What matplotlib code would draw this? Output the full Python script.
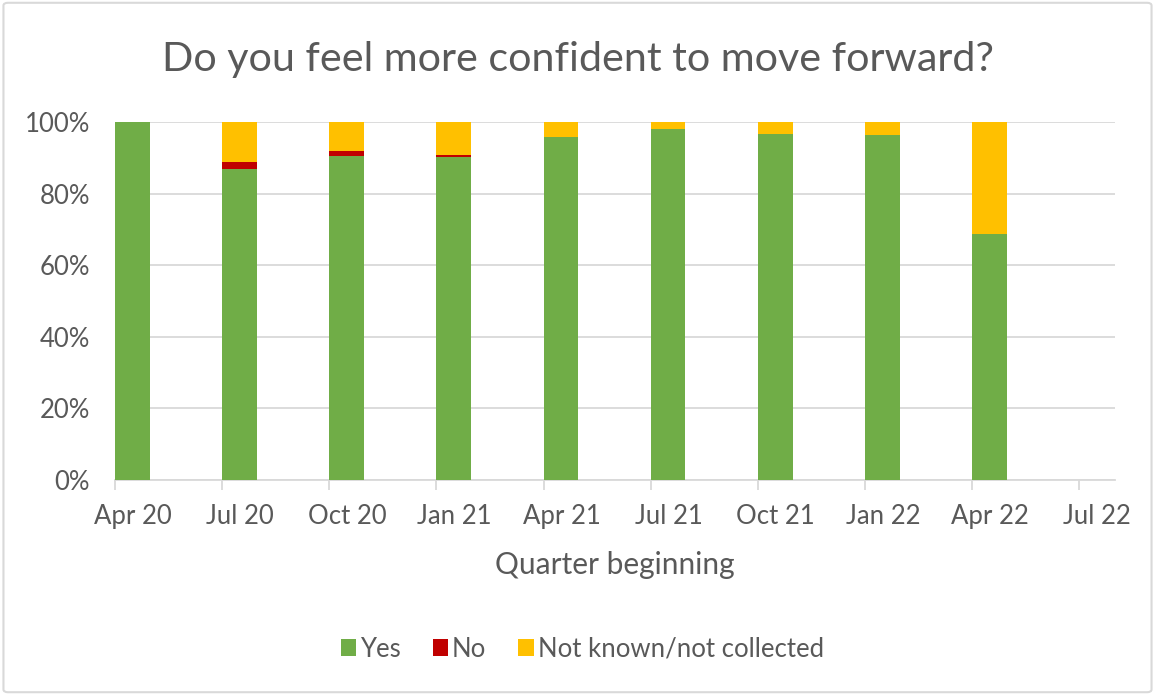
import numpy as np
import matplotlib.pyplot as plt
from matplotlib.patches import FancyBboxPatch

plt.rcParams['font.family'] = ['Lato', 'DejaVu Sans']

# quarters, month offsets from Apr 20
quarters = ["Apr 20", "Jul 20", "Oct 20", "Jan 21", "Apr 21",
            "Jul 21", "Oct 21", "Jan 22", "Apr 22", "Jul 22"]
bar_months = [0, 3, 6, 9, 12, 15, 18, 21, 24]

yes = [100.0, 86.8, 90.6, 90.1, 95.9, 98.0, 96.7, 96.3, 68.7]
no = [0.0, 2.1, 1.4, 0.7, 0.0, 0.0, 0.0, 0.0, 0.0]
not_known = [0.0, 11.1, 8.0, 9.2, 4.1, 2.0, 3.3, 3.7, 31.3]

green = "#70AD47"
red = "#C00000"
amber = "#FFC000"
text_col = "#595959"
grid_col = "#D9D9D9"

fig = plt.figure(figsize=(11.55, 6.95), dpi=100)
ax = fig.add_axes([0.0996, 0.3094, 0.8658, 0.5151])

x = np.array(bar_months)
yes = np.array(yes)
no = np.array(no)
not_known = np.array(not_known)
w = 0.97
ax.bar(x, yes, width=w, align='edge', color=green, label="Yes", zorder=3)
ax.bar(x, no, width=w, align='edge', bottom=yes, color=red, label="No", zorder=3)
ax.bar(x, not_known, width=w, align='edge', bottom=yes + no, color=amber,
       label="Not known/not collected", zorder=3)

ax.set_xlim(0, 28)
ax.set_ylim(0, 100)
ax.set_yticks(np.arange(0, 101, 20))
ax.set_yticklabels([f"{v}%" for v in range(0, 101, 20)])

# tick marks at quarter starts, labels centred in the first month
month_starts = np.arange(0, 28, 3)
ax.set_xticks(month_starts)
ax.set_xticklabels([])
ax.set_xticks(month_starts + 0.5, minor=True)
ax.set_xticklabels(quarters, minor=True)

ax.grid(axis='y', color=grid_col, linewidth=1.3, zorder=0)
for s in ['top', 'right', 'left']:
    ax.spines[s].set_visible(False)
ax.spines['bottom'].set_color(grid_col)
ax.spines['bottom'].set_linewidth(1.3)
ax.tick_params(axis='y', length=0, pad=18, labelsize=18.5, labelcolor=text_col)
ax.tick_params(axis='x', which='major', length=7, width=1.3, color=grid_col)
ax.tick_params(axis='x', which='minor', length=0, pad=17,
               labelsize=18.5, labelcolor=text_col)

ax.set_xlabel("Quarter beginning", fontsize=21.5, color=text_col, labelpad=16)
fig.text(0.5, 0.915, "Do you feel more confident to move forward?",
         ha='center', va='center', fontsize=29.7, color=text_col)

handles, labels = ax.get_legend_handles_labels()
fig.legend(handles, labels, loc='center', bbox_to_anchor=(0.504, 0.066),
           ncol=3, frameon=False, fontsize=18.5, labelcolor=text_col,
           handlelength=0.6, handleheight=0.6, handletextpad=0.15,
           columnspacing=1.25)

# chart area border
fig.patches.append(FancyBboxPatch((0.003, 0.004), 0.994, 0.992,
                                  boxstyle="round,pad=0,rounding_size=0.004",
                                  transform=fig.transFigure, fill=False,
                                  edgecolor=grid_col, linewidth=1.5))

fig.savefig("out.png", dpi=100)
